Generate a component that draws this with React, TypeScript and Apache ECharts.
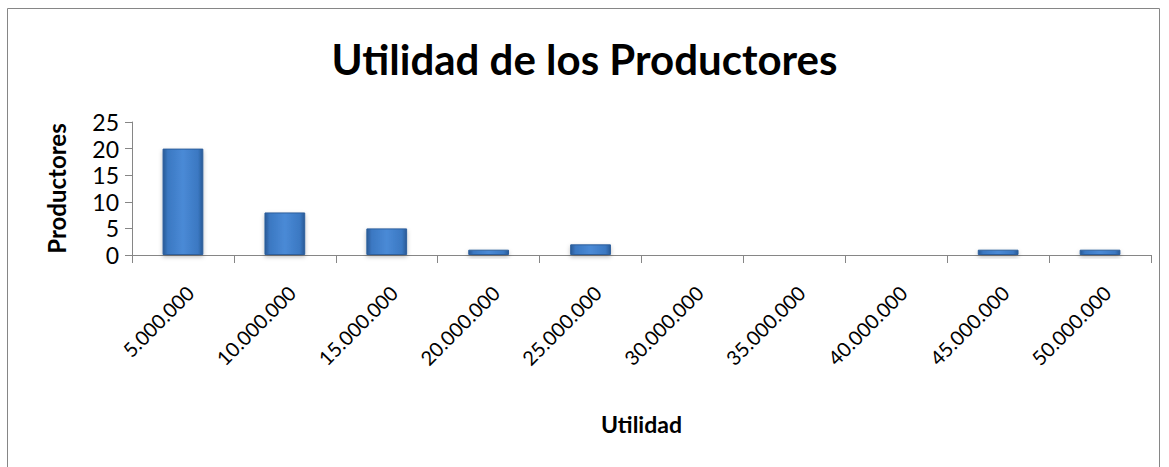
import React, { useEffect, useRef } from "react";
import * as echarts from "echarts";

const categories = ["5.000.000", "10.000.000", "15.000.000", "20.000.000", "25.000.000", "30.000.000", "35.000.000", "40.000.000", "45.000.000", "50.000.000"];
const productores = [20, 8, 5, 1, 2, 0, 0, 0, 1, 1];
const yTicks = { min: 0, max: 25, interval: 5 };

const FONT = "Lato, 'Open Sans', sans-serif";

export default function App() {
  const ref = useRef<HTMLDivElement>(null);
  useEffect(() => {
    document.body.style.margin = "0";
    const chart = echarts.init(ref.current!, undefined, { renderer: "svg" });
    chart.setOption({
      animation: false,
      backgroundColor: "#ffffff",
      title: {
        text: "Utilidad de los Productores",
        left: "center",
        top: 33,
        textStyle: { fontFamily: FONT, fontSize: 42, fontWeight: "bold", color: "#000" },
      },
      graphic: [
        {
          type: "rect",
          shape: { x: 7.5, y: 8.5, width: 1152, height: 480 },
          style: { fill: "none", stroke: "#868686", lineWidth: 1 },
          silent: true,
        },
      ],
      grid: { left: 132, top: 122, right: 18, bottom: 212, containLabel: false },
      xAxis: {
        type: "category",
        data: categories,
        name: "Utilidad",
        nameLocation: "middle",
        nameGap: 157,
        nameTextStyle: { fontFamily: FONT, fontSize: 23, fontWeight: "bold", color: "#000" },
        axisLine: { lineStyle: { color: "#868686", width: 1 } },
        axisTick: { show: true, alignWithLabel: false, length: 8, lineStyle: { color: "#868686" } },
        axisLabel: {
          rotate: 45,
          interval: 0,
          margin: 27,
          verticalAlign: "top",
          fontFamily: FONT,
          fontSize: 20,
          color: "#000",
        },
      },
      yAxis: {
        type: "value",
        min: yTicks.min,
        max: yTicks.max,
        interval: yTicks.interval,
        name: "Productores",
        nameLocation: "middle",
        nameGap: 64,
        nameRotate: 90,
        nameTextStyle: { fontFamily: FONT, fontSize: 24, fontWeight: "bold", color: "#000" },
        axisLine: { show: true, lineStyle: { color: "#868686", width: 1 } },
        axisTick: { show: true, length: 7, lineStyle: { color: "#868686" } },
        splitLine: { show: false },
        axisLabel: { fontFamily: FONT, fontSize: 23, color: "#000", margin: 13 },
      },
      series: [
        {
          type: "bar",
          data: productores,
          barWidth: "40%",
          itemStyle: {
            color: new echarts.graphic.LinearGradient(0, 0, 1, 0, [
              { offset: 0, color: "#2a5a96" },
              { offset: 0.12, color: "#3b78c2" },
              { offset: 0.5, color: "#4a8ad6" },
              { offset: 0.88, color: "#3b78c2" },
              { offset: 1, color: "#2a5a96" },
            ]),
            borderColor: "#2d5f9c",
            borderWidth: 1,
            shadowColor: "rgba(0,0,0,0.25)",
            shadowBlur: 4,
            shadowOffsetY: 2,
          },
        },
      ],
    });
    return () => chart.dispose();
  }, []);
  return <div ref={ref} style={{ position: "absolute", left: 0, top: 0, width: 1169, height: 467 }} />;
}
